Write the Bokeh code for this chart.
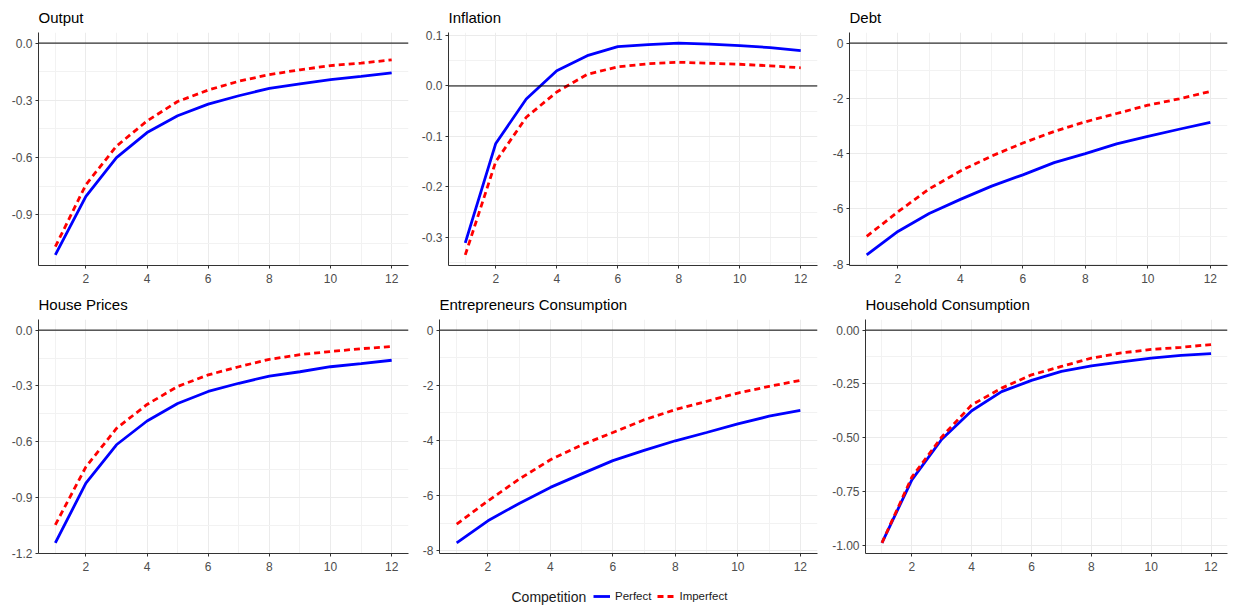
from bokeh.plotting import figure
from bokeh.models import (FixedTicker, NumeralTickFormatter, Span, Range1d,
                          Legend, LegendItem, Label)
from bokeh.layouts import column, row
from bokeh.embed import file_html
from bokeh.resources import INLINE

# ---------------- data ----------------
periods = [1, 2, 3, 4, 5, 6, 7, 8, 9, 10, 11, 12]
x_ticks = [2, 4, 6, 8, 10, 12]
x_minor = [1, 3, 5, 7, 9, 11]

output_perfect = [-1.11, -0.803, -0.600, -0.469, -0.381, -0.320, -0.276, -0.237, -0.214, -0.191, -0.174, -0.156]
output_imperfect = [-1.067, -0.742, -0.540, -0.408, -0.306, -0.246, -0.200, -0.165, -0.140, -0.118, -0.105, -0.088]

inflation_perfect = [-0.311, -0.114, -0.026, 0.030, 0.060, 0.078, 0.082, 0.085, 0.083, 0.080, 0.076, 0.070]
inflation_imperfect = [-0.335, -0.150, -0.062, -0.012, 0.023, 0.038, 0.044, 0.047, 0.045, 0.043, 0.040, 0.036]

debt_perfect = [-7.67, -6.82, -6.17, -5.66, -5.18, -4.77, -4.33, -4.00, -3.65, -3.38, -3.12, -2.87]
debt_imperfect = [-7.00, -6.11, -5.28, -4.63, -4.09, -3.62, -3.20, -2.85, -2.55, -2.25, -2.02, -1.75]

house_perfect = [-1.145, -0.824, -0.617, -0.489, -0.395, -0.330, -0.286, -0.247, -0.224, -0.197, -0.180, -0.162]
house_imperfect = [-1.048, -0.736, -0.529, -0.400, -0.303, -0.241, -0.197, -0.157, -0.132, -0.115, -0.100, -0.088]

ent_perfect = [-7.71, -6.91, -6.28, -5.70, -5.21, -4.73, -4.36, -4.01, -3.71, -3.40, -3.12, -2.91]
ent_imperfect = [-7.03, -6.19, -5.40, -4.70, -4.16, -3.71, -3.25, -2.88, -2.58, -2.28, -2.04, -1.82]

hh_perfect = [-0.99, -0.697, -0.508, -0.375, -0.286, -0.234, -0.192, -0.166, -0.148, -0.130, -0.117, -0.109]
hh_imperfect = [-0.99, -0.684, -0.497, -0.348, -0.270, -0.208, -0.169, -0.130, -0.106, -0.090, -0.080, -0.067]

series_names = ["Perfect", "Imperfect"]
legend_title = "Competition"

titles = ["Output", "Inflation", "Debt", "House Prices", "Entrepreneurs Consumption", "Household Consumption"]

output_ticks = [0.0, -0.3, -0.6, -0.9]
output_minor = [-0.15, -0.45, -0.75, -1.05]
inflation_ticks = [0.1, 0.0, -0.1, -0.2, -0.3]
inflation_minor = [0.05, -0.05, -0.15, -0.25, -0.35]
debt_ticks = [0, -2, -4, -6, -8]
debt_minor = [-1, -3, -5, -7]
house_ticks = [0.0, -0.3, -0.6, -0.9, -1.2]
house_minor = [-0.15, -0.45, -0.75, -1.05]
ent_ticks = [0, -2, -4, -6, -8]
ent_minor = [-1, -3, -5, -7]
hh_ticks = [0.0, -0.25, -0.5, -0.75, -1.0]
hh_minor = [-0.125, -0.375, -0.625, -0.875]

# ---------------- style ----------------
FONT = "Liberation Sans"
BLUE = "#0000FF"
RED = "#FF0000"
LW = 2.8
DASH = "6 4"


def make_panel(title, perf, imperf, yticks, yminor, fmt, width, height,
               bl, br, bt, bb):
    lo = min(min(perf), min(imperf), 0.0)
    hi = max(max(perf), max(imperf), 0.0)
    pad = (hi - lo) * 0.05
    p = figure(width=width, height=height, output_backend="svg",
               toolbar_location=None, title=title,
               x_range=Range1d(0.45, 12.55), y_range=Range1d(lo - pad, hi + pad),
               min_border_left=bl, min_border_right=br,
               min_border_top=bt, min_border_bottom=bb)
    p.outline_line_color = None
    p.background_fill_color = "white"
    p.border_fill_color = "white"
    p.title.text_font = FONT
    p.title.text_font_size = "15px"
    p.title.text_font_style = "normal"
    p.title.text_color = "#000000"
    p.title.align = "left"
    p.title.standoff = 13

    p.xaxis.ticker = FixedTicker(ticks=x_ticks, minor_ticks=x_minor)
    p.yaxis.ticker = FixedTicker(ticks=yticks, minor_ticks=yminor)
    p.yaxis.formatter = NumeralTickFormatter(format=fmt)
    for ax in (p.xaxis, p.yaxis):
        ax.axis_line_color = "#333333"
        ax.axis_line_width = 1
        ax.major_tick_line_color = "#333333"
        ax.major_tick_in = 0
        ax.major_tick_out = 3
        ax.minor_tick_line_color = None
        ax.major_label_text_font = FONT
        ax.major_label_text_font_size = "12px"
        ax.major_label_text_color = "#4D4D4D"
    p.xaxis.major_label_standoff = 4
    p.yaxis.major_label_standoff = 2

    for g in (p.xgrid, p.ygrid):
        g.grid_line_color = "#EBEBEB"
        g.grid_line_width = 1
        g.minor_grid_line_color = "#F2F2F2"
        g.minor_grid_line_width = 1

    p.add_layout(Span(location=0, dimension="width", line_color="#000000", line_width=1))
    p.line(periods, perf, line_color=BLUE, line_width=LW)
    p.line(periods, imperf, line_color=RED, line_width=LW, line_dash=DASH)
    return p


H1 = 287
H2 = 288
p1 = make_panel(titles[0], output_perfect, output_imperfect, output_ticks, output_minor, "0.0",
                410, H1, 38, 2, 32, 22)
p2 = make_panel(titles[1], inflation_perfect, inflation_imperfect, inflation_ticks, inflation_minor, "0.0",
                410, H1, 38, 3, 30, 22)
p3 = make_panel(titles[2], debt_perfect, debt_imperfect, debt_ticks, debt_minor, "0",
                413, H1, 29, 6, 30, 22)
p4 = make_panel(titles[3], house_perfect, house_imperfect, house_ticks, house_minor, "0.0",
                410, H2, 38, 2, 30, 22)
p5 = make_panel(titles[4], ent_perfect, ent_imperfect, ent_ticks, ent_minor, "0",
                410, H2, 29, 3, 32, 22)
p6 = make_panel(titles[5], hh_perfect, hh_imperfect, hh_ticks, hh_minor, "0.00",
                413, H2, 45, 6, 32, 22)

# ---------------- legend strip ----------------
# the key renderers carry real data but sit outside this strip's visible ranges
leg = figure(width=1233, height=34, output_backend="svg", toolbar_location=None,
             x_range=Range1d(100, 200), y_range=Range1d(100, 200),
             min_border_left=0, min_border_right=0, min_border_top=0, min_border_bottom=0)
leg.axis.visible = False
leg.grid.visible = False
leg.outline_line_color = None
r_perf = leg.line(periods, output_perfect, line_color=BLUE, line_width=LW)
r_imp = leg.line(periods, output_imperfect, line_color=RED, line_width=LW, line_dash=DASH)
legend = Legend(items=[LegendItem(label=series_names[0], renderers=[r_perf]),
                       LegendItem(label=series_names[1], renderers=[r_imp])],
                orientation="horizontal", location=(593, 3),
                padding=0, margin=0, spacing=6, label_standoff=5,
                glyph_width=17, glyph_height=20, label_height=20,
                border_line_color=None, background_fill_alpha=0,
                label_text_font=FONT, label_text_font_size="11.5px",
                label_text_color="#1A1A1A")
leg.add_layout(legend, "center")
leg.add_layout(Label(x=511, y=13, x_units="screen", y_units="screen", text=legend_title,
                     text_font=FONT, text_font_size="14px", text_baseline="middle",
                     text_color="#1A1A1A"))

layout = column(row(p1, p2, p3), row(p4, p5, p6), leg)
open("out.html", "w").write(file_html(layout, INLINE))
